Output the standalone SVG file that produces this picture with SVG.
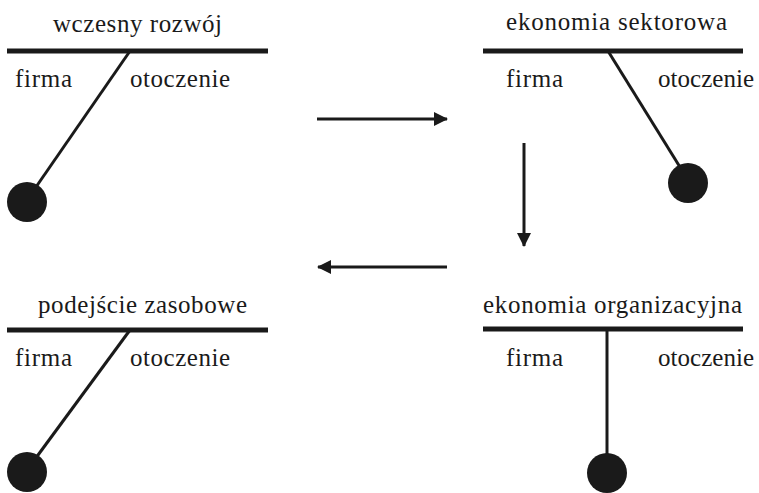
<svg xmlns="http://www.w3.org/2000/svg" width="759" height="493" viewBox="0 0 759 493">
  <defs>
    <marker id="head" viewBox="0 0 14 14" refX="13" refY="7" markerWidth="14" markerHeight="14" markerUnits="userSpaceOnUse" orient="auto">
      <path d="M0,0 L14,7 L0,14 Z" fill="#1a1a1a"/>
    </marker>
  </defs>
  <style>
    text { font-family: "Liberation Serif", serif; font-size: 25px; fill: #1a1a1a; }
    .title { text-anchor: middle; }
    .bar { stroke: #1a1a1a; stroke-width: 5; }
    .rod { stroke: #1a1a1a; stroke-width: 3; }
    .bob { fill: #1a1a1a; }
    .flow { stroke: #1a1a1a; stroke-width: 3; fill: none; marker-end: url(#head); }
  </style>

  <!-- early development: weight swings to the firm side -->
  <g id="wczesny-rozwoj">
    <text class="title" x="137.5" y="32" textLength="169" lengthAdjust="spacing">wczesny rozwój</text>
    <line class="bar" x1="7" y1="51" x2="268" y2="51"/>
    <line class="rod" x1="130" y1="51" x2="27" y2="200"/>
    <circle class="bob" cx="27" cy="202" r="20"/>
    <text x="15" y="87" textLength="57" lengthAdjust="spacing">firma</text>
    <text x="130" y="87" textLength="100" lengthAdjust="spacing">otoczenie</text>
  </g>

  <!-- sector economics: weight swings to the environment side -->
  <g id="ekonomia-sektorowa">
    <text class="title" x="616.5" y="30" textLength="221" lengthAdjust="spacing">ekonomia sektorowa</text>
    <line class="bar" x1="483" y1="51" x2="743" y2="51"/>
    <line class="rod" x1="608" y1="51" x2="688" y2="180"/>
    <circle class="bob" cx="688" cy="183" r="20"/>
    <text x="506" y="87" textLength="57" lengthAdjust="spacing">firma</text>
    <text x="658" y="87" textLength="96" lengthAdjust="spacing">otoczenie</text>
  </g>

  <!-- organizational economics: weight hangs in the middle -->
  <g id="ekonomia-organizacyjna">
    <text class="title" x="612.5" y="313" textLength="259" lengthAdjust="spacing">ekonomia organizacyjna</text>
    <line class="bar" x1="483" y1="329" x2="743" y2="329"/>
    <line class="rod" x1="607" y1="329" x2="607" y2="470"/>
    <circle class="bob" cx="607" cy="473" r="20"/>
    <text x="506" y="366" textLength="57" lengthAdjust="spacing">firma</text>
    <text x="658" y="366" textLength="96" lengthAdjust="spacing">otoczenie</text>
  </g>

  <!-- resource-based view: weight back on the firm side -->
  <g id="podejscie-zasobowe">
    <text class="title" x="142.5" y="313" textLength="209" lengthAdjust="spacing">podejście zasobowe</text>
    <line class="bar" x1="7" y1="330" x2="268" y2="330"/>
    <line class="rod" x1="130" y1="330" x2="27" y2="470"/>
    <circle class="bob" cx="27" cy="472" r="20"/>
    <text x="15" y="366" textLength="57" lengthAdjust="spacing">firma</text>
    <text x="130" y="366" textLength="100" lengthAdjust="spacing">otoczenie</text>
  </g>

  <!-- sequence arrows between the stages -->
  <g id="connectors">
    <line class="flow" x1="317" y1="119" x2="447" y2="119"/>
    <line class="flow" x1="524" y1="143" x2="524" y2="246"/>
    <line class="flow" x1="447" y1="267" x2="318" y2="267"/>
  </g>
</svg>
